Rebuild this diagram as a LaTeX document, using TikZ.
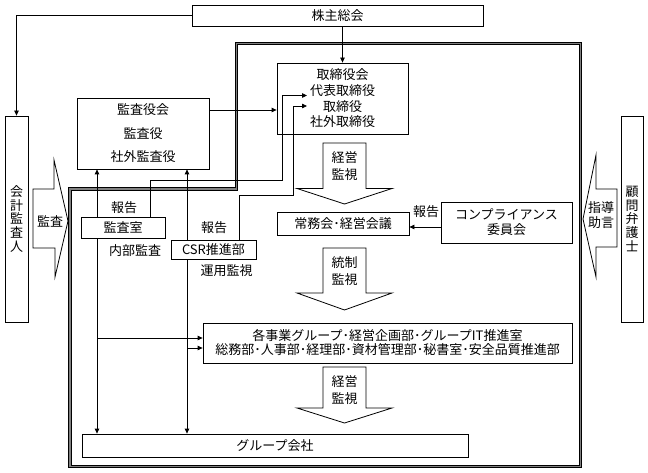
\documentclass[tikz,border=0pt]{standalone}
\usepackage{fontspec}
\setmainfont{Noto Sans CJK JP}
\usetikzlibrary{arrows.meta}

\tikzset{
  box/.style={draw, fill=white, inner sep=0pt, align=center},
  arr/.style={-{Triangle[length=5pt,width=4.5pt]}},
  outline/.style={draw=black, double=black!50, double distance=1.3pt, line width=0.9pt},
  blockarrow/.style={draw, fill=white, line join=miter},
  vtext/.style={font=\fontsize{13}{13.8}\selectfont},
}

\begin{document}
\begin{tikzpicture}[x=1pt,y=-1pt,font=\fontsize{13}{15.7}\selectfont,line width=0.8pt]
    \useasboundingbox (0,0) rectangle (648,473);
    % group frame
    \draw[outline] (236.5,43.5) -- (580.5,43.5) -- (580.5,466.5) -- (70,466.5) -- (70,189) -- (236.5,189) -- cycle;

    % boxes
    \node[box,minimum width=291pt,minimum height=21pt] (kabunushi) at (337.5,15.5) {株主総会};
    \node[box,vtext,minimum width=23pt,minimum height=206pt] (kaikei) at (16.5,219) {会\\計\\監\\査\\人};
    \node[box,vtext,minimum width=22pt,minimum height=206pt] (komon) at (632,219) {顧\\問\\弁\\護\\士};
    \node[box,font=\fontsize{13}{23.5}\selectfont,minimum width=132pt,minimum height=71pt] (kansayaku) at (143,133.5) {監査役会\\監査役\\社外監査役};
    \node[box,minimum width=131pt,minimum height=71pt] (torishimari) at (342.5,98.5) {取締役会\\代表取締役\\取締役\\社外取締役};
    \node[box,minimum width=84pt,minimum height=21pt] (kansashitsu) at (123,227.5) {監査室};
    \node[box,minimum width=85pt,minimum height=19pt] (csr) at (213.5,249.5) {CSR推進部};
    \node[box,minimum width=132pt,minimum height=23pt] (joumu) at (343,223.5) {常務会･経営会議};
    \node[box,font=\fontsize{13}{15}\selectfont,minimum width=131pt,minimum height=41pt] (compliance) at (506.5,222.5) {コンプライアンス\\委員会};
    \node[box,font=\fontsize{13}{14}\selectfont,minimum width=369pt,minimum height=40pt] (jigyo) at (387.5,343) {各事業グループ･経営企画部･グループIT推進室\\総務部･人事部･経理部･資材管理部･秘書室･安全品質推進部};
    \node[box,minimum width=386pt,minimum height=23pt] (group) at (275,445.5) {グループ会社};

    % labels
    \node (hokoku1) at (124,208) {報告};
    \node (hokoku2) at (214,228) {報告};
    \node (hokoku3) at (426,212) {報告};
    \node (naibu) at (135,250.5) {内部監査};
    \node (unyou) at (226.5,271) {運用監視};

    % block arrows
    \foreach \ya/\yb/\yc/\la/\lb in {143/188.5/204/経営/監視, 248/293/310/統制/監視, 367/408/423/経営/監視} {
        \draw[blockarrow] (323,\ya) -- (366,\ya) -- (366,\yb) -- (392,\yb) -- (344.5,\yc) -- (297,\yb) -- (323,\yb) -- cycle;
        \node at (344.5,{\ya+15}) {\la};
        \node at (344.5,{\ya+32}) {\lb};
    }
    \draw[blockarrow] (33,189) -- (54,189) -- (54,160) -- (68,221) -- (55,277) -- (55,248) -- (33,248) -- cycle;
    \node (kansa) at (50,221) {監査};
    \draw[blockarrow] (617,189) -- (596,189) -- (596,155) -- (583,219) -- (596,277) -- (596,247) -- (617,247) -- cycle;
    \node[font=\fontsize{13}{15}\selectfont,align=center] (shido) at (601,215) {指導\\助言};

    % connectors
    \coordinate (in1) at (307,95.5);
    \coordinate (in2) at (307,106);
    \draw[arr] (kabunushi.west) -| (kaikei.north);
    \draw[arr] (torishimari.north |- kabunushi.south) -- (torishimari.north);
    \draw[arr] (kansayaku.east |- 0,110) -- (torishimari.west |- 0,110);
    \draw[arr] (kansashitsu.north -| 150,0) |- (282,180) |- (in1);
    \draw[arr] (csr.north -| 239,0) |- (293,195) |- (in2);
    \draw[arr] (kansashitsu.north -| 97,0) -- (kansayaku.south -| 97,0);
    \draw[arr] (csr.north -| 187,0) -- (kansayaku.south -| 187,0);
    \draw[arr] (kansashitsu.south -| 97,0) -- (group.north -| 97,0);
    \draw[arr] (csr.south -| 187,0) -- (group.north -| 187,0);
    \draw[arr] (97,338) -- (jigyo.west |- 0,338);
    \draw[arr] (187,348) -- (jigyo.west |- 0,348);
    \draw[arr] (compliance.west |- 0,227) -- (joumu.east |- 0,227);
\end{tikzpicture}
\end{document}
